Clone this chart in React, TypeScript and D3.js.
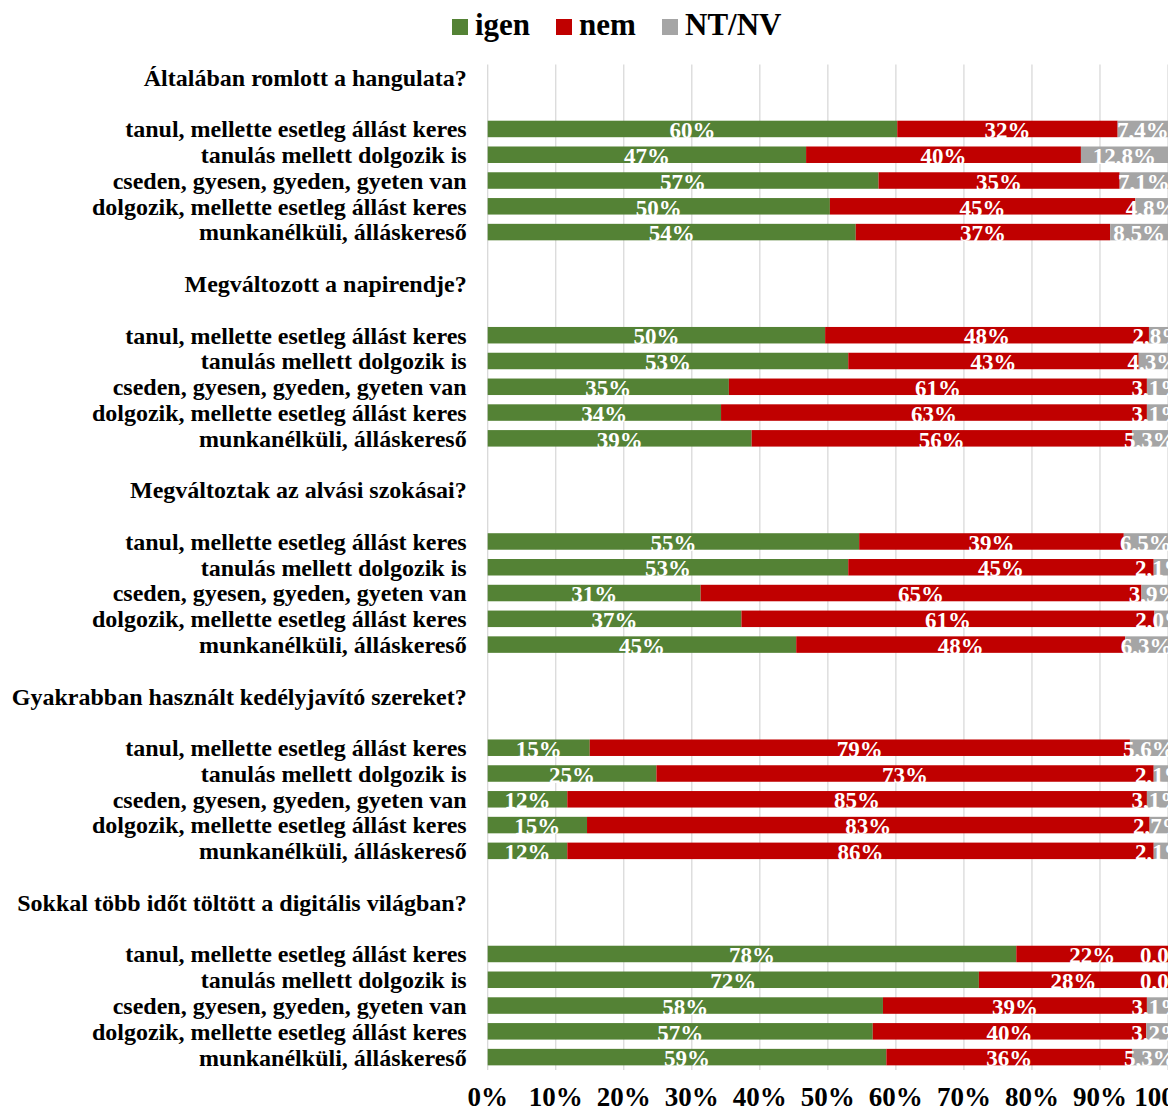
import React, { useRef, useEffect } from 'react';
import * as d3 from 'd3';

const groups = [
  'tanul, mellette esetleg állást keres',
  'tanulás mellett dolgozik is',
  'cseden, gyesen, gyeden, gyeten van',
  'dolgozik, mellette esetleg állást keres',
  'munkanélküli, álláskereső'
];

const questions = [
  'Általában romlott a hangulata?',
  'Megváltozott a napirendje?',
  'Megváltoztak az alvási szokásai?',
  'Gyakrabban használt kedélyjavító szereket?',
  'Sokkal több időt töltött a digitális világban?'
];

// one row per question, one value per group (percent)
const igen = [
  [60.2, 46.8, 57.45, 50.3, 54.1],
  [49.6, 53.0, 35.45, 34.3, 38.8],
  [54.6, 53.0, 31.3, 37.3, 45.35],
  [15.0, 24.8, 11.7, 14.6, 11.7],
  [77.7, 72.2, 58.1, 56.6, 58.6]
];
const nem = [
  [32.4, 40.4, 35.45, 44.9, 37.4],
  [47.6, 42.7, 61.45, 62.6, 55.9],
  [38.9, 44.9, 64.8, 60.7, 48.35],
  [79.4, 73.1, 85.2, 82.7, 86.2],
  [22.3, 27.8, 38.8, 40.2, 36.1]
];
const ntnv = [
  [7.4, 12.8, 7.1, 4.8, 8.5],
  [2.8, 4.3, 3.1, 3.1, 5.3],
  [6.5, 2.1, 3.9, 2.0, 6.3],
  [5.6, 2.1, 3.1, 2.7, 2.1],
  [0.0, 0.0, 3.1, 3.2, 5.3]
];

const seriesNames = ['igen', 'nem', 'NT/NV'];
const colors = ['#548235', '#C00000', '#A5A5A5'];
const ticks = [0, 10, 20, 30, 40, 50, 60, 70, 80, 90, 100];

const FONT = '"Liberation Serif", "Times New Roman", serif';

type Row = { key: string; label: string; header: boolean; values: number[] | null };

const App: React.FC = () => {
  const svgRef = useRef<SVGSVGElement>(null);
  const width = 1168;
  const height = 1113;

  useEffect(() => {
    if (!svgRef.current) return;
    const margin = { top: 64.5, right: 0, bottom: 43, left: 487.7 };
    const innerW = width - margin.left - margin.right;
    const innerH = height - margin.top - margin.bottom;

    d3.select(svgRef.current).selectAll('*').remove();
    const svg = d3.select(svgRef.current);

    // build rows: question header, blank, 5 groups, blank
    const rows: Row[] = [];
    questions.forEach((q, qi) => {
      rows.push({ key: `q${qi}`, label: q, header: true, values: null });
      rows.push({ key: `b${qi}a`, label: '', header: false, values: null });
      groups.forEach((g, gi) => {
        rows.push({
          key: `r${qi}-${gi}`,
          label: g,
          header: false,
          values: [igen[qi][gi], nem[qi][gi], ntnv[qi][gi]]
        });
      });
      if (qi < questions.length - 1) {
        rows.push({ key: `b${qi}b`, label: '', header: false, values: null });
      }
    });

    const x = d3.scaleLinear().domain([0, 100]).range([0, innerW]);
    const y = d3.scaleBand()
      .domain(rows.map(r => r.key))
      .range([0, innerH])
      .paddingInner(0.36)
      .paddingOuter(0.18);

    const g = svg.append('g')
      .attr('transform', `translate(${margin.left},${margin.top})`);

    // gridlines
    g.append('g')
      .selectAll('line')
      .data(ticks)
      .enter()
      .append('line')
      .attr('x1', d => x(d))
      .attr('x2', d => x(d))
      .attr('y1', 0)
      .attr('y2', innerH)
      .attr('stroke', '#D9D9D9')
      .attr('stroke-width', 1.3);

    // tick labels
    g.append('g')
      .selectAll('text')
      .data(ticks)
      .enter()
      .append('text')
      .attr('x', d => x(d))
      .attr('y', innerH + 36)
      .attr('text-anchor', 'middle')
      .attr('font-family', FONT)
      .attr('font-weight', 'bold')
      .attr('font-size', 27)
      .attr('fill', '#000')
      .text(d => `${d}%`);

    // category labels
    g.append('g')
      .selectAll('text')
      .data(rows.filter(r => r.label))
      .enter()
      .append('text')
      .attr('x', -21)
      .attr('y', d => y(d.key)! + y.bandwidth() / 2)
      .attr('dy', '0.35em')
      .attr('text-anchor', 'end')
      .attr('font-family', FONT)
      .attr('font-weight', 'bold')
      .attr('font-size', 24)
      .attr('fill', '#000')
      .text(d => d.label);

    // stacked bars
    const dataRows = rows.filter(r => r.values);
    const segs = dataRows.flatMap(r => {
      let acc = 0;
      return r.values!.map((v, i) => {
        const s = { key: r.key, i, x0: acc, x1: acc + v, v };
        acc += v;
        return s;
      });
    });

    g.append('g')
      .selectAll('rect')
      .data(segs)
      .enter()
      .append('rect')
      .attr('x', d => x(d.x0))
      .attr('y', d => y(d.key)!)
      .attr('width', d => x(d.x1) - x(d.x0))
      .attr('height', y.bandwidth())
      .attr('fill', d => colors[d.i]);

    const fmt = (d: { i: number; v: number }) =>
      d.i === 2 ? `${d.v.toFixed(1).replace('.', ',')}%` : `${Math.round(d.v)}%`;

    g.append('g')
      .selectAll('text')
      .data(segs)
      .enter()
      .append('text')
      .attr('x', d => (d.i === 2 && d.v === 0 ? x(d.x0) - 2 : x((d.x0 + d.x1) / 2)))
      .attr('y', d => y(d.key)! + y.bandwidth() / 2)
      .attr('dy', '0.4em')
      .attr('text-anchor', 'middle')
      .attr('font-family', FONT)
      .attr('font-weight', 'bold')
      .attr('font-size', 23)
      .attr('fill', '#fff')
      .text(d => fmt(d));

    // legend
    const legendX = [452, 556, 662];
    const legend = svg.append('g');
    seriesNames.forEach((name, i) => {
      legend.append('rect')
        .attr('x', legendX[i])
        .attr('y', 19)
        .attr('width', 16)
        .attr('height', 16)
        .attr('fill', colors[i]);
      legend.append('text')
        .attr('x', legendX[i] + 23)
        .attr('y', 35)
        .attr('font-family', FONT)
        .attr('font-weight', 'bold')
        .attr('font-size', 31)
        .attr('fill', '#000')
        .text(name);
    });
  }, []);

  return (
    <svg
      ref={svgRef}
      width={width}
      height={height}
      style={{ position: 'absolute', left: 0, top: 0, display: 'block', background: '#fff' }}
    />
  );
};

export default App;
